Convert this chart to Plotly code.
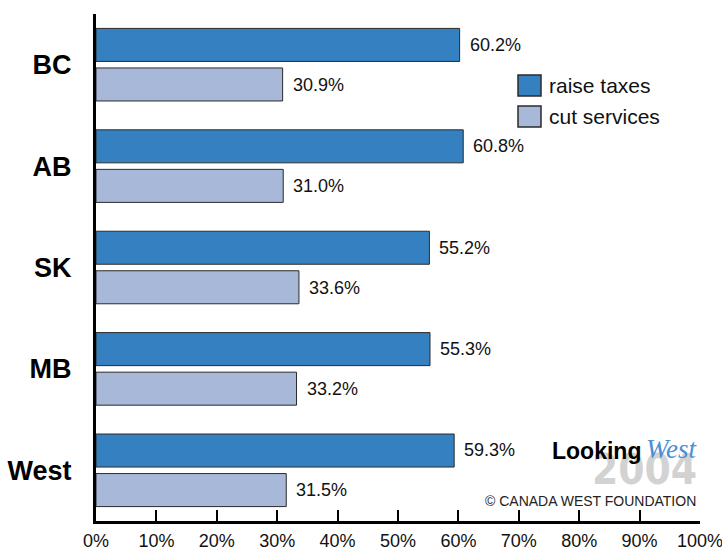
import plotly.graph_objects as go

# Survey: preferred response to a provincial budget shortfall
regions = ["BC", "AB", "SK", "MB", "West"]
raise_taxes = [60.2, 60.8, 55.2, 55.3, 59.3]
cut_services = [30.9, 31.0, 33.6, 33.2, 31.5]
series_names = ["raise taxes", "cut services"]
x_ticks = [0, 10, 20, 30, 40, 50, 60, 70, 80, 90, 100]
x_tick_labels = [f"{v}%" for v in x_ticks]

COL_RAISE = "#3580c0"
COL_CUT = "#a7b8d8"
EDGE = "#2b2b2b"

W, H = 722, 552
ML, MR, MT, MB = 96, 22, 14, 31
PW, PH = W - ML - MR, H - MT - MB


def px(x):
    return (x - ML) / PW


def py(y):
    return (H - MB - y) / PH


fig = go.Figure()
for name, vals, col in [(series_names[0], raise_taxes, COL_RAISE),
                        (series_names[1], cut_services, COL_CUT)]:
    fig.add_trace(go.Bar(
        y=regions, x=vals, orientation="h", name=name,
        marker=dict(color=col, line=dict(color=EDGE, width=1)),
        showlegend=False,
        offsetgroup=name,
    ))

# value labels to the right of each bar
annotations = []
for i, r in enumerate(regions):
    for vals, shift in [(raise_taxes, -1), (cut_services, 1)]:
        annotations.append(dict(
            x=vals[i], y=r, xref="x", yref="y",
            text=f"{vals[i]:.1f}%", showarrow=False,
            xanchor="left", xshift=8, yshift=-shift * 20,
            font=dict(family="Liberation Sans, Arial, sans-serif", size=18, color="#111"),
        ))

# legend
shapes = []
for (y0, y1, col, label, yc) in [(75, 96, COL_RAISE, series_names[0], 85),
                                  (106, 127, COL_CUT, series_names[1], 116)]:
    shapes.append(dict(type="rect", xref="paper", yref="paper",
                       x0=px(518), x1=px(541), y0=py(y1), y1=py(y0),
                       fillcolor=col, line=dict(color=EDGE, width=1.5)))
    annotations.append(dict(x=px(547), y=py(yc), xref="paper", yref="paper",
                            text=label, showarrow=False, xanchor="left", yanchor="middle",
                            font=dict(family="Liberation Sans, Arial, sans-serif", size=21, color="#111")))

# logo block
annotations += [
    dict(x=px(699), y=py(469), xref="paper", yref="paper", text="<b>2004</b>",
         showarrow=False, xanchor="right", yanchor="middle",
         font=dict(family="DejaVu Sans Condensed, Liberation Sans, sans-serif", size=42, color="#d2d2d2")),
    dict(x=px(643), y=py(451), xref="paper", yref="paper", text="<b>Looking</b>",
         showarrow=False, xanchor="right", yanchor="middle",
         font=dict(family="Liberation Sans, Arial, sans-serif", size=23, color="#000")),
    dict(x=px(644), y=py(449), xref="paper", yref="paper", text="<i>West</i>",
         showarrow=False, xanchor="left", yanchor="middle",
         font=dict(family="Liberation Serif, Times New Roman, serif", size=27, color="#4a8fd6")),
    dict(x=px(698), y=py(501), xref="paper", yref="paper", text="© CANADA WEST FOUNDATION",
         showarrow=False, xanchor="right", yanchor="middle",
         font=dict(family="Liberation Sans, Arial, sans-serif", size=14, color="#222")),
]

fig.update_layout(
    width=W, height=H,
    margin=dict(l=ML, r=MR, t=MT, b=MB, pad=0, autoexpand=False),
    paper_bgcolor="white", plot_bgcolor="white",
    barmode="group", bargap=0.22, bargroupgap=0.165,
    shapes=shapes, annotations=annotations,
    xaxis=dict(
        range=[0, 100], tickvals=x_ticks, ticktext=x_tick_labels,
        ticks="inside", ticklen=11, tickwidth=2, tickcolor="#000",
        showline=True, linewidth=2.5, linecolor="#000",
        showgrid=False, zeroline=False, ticklabelstandoff=2,
        automargin=False, ticklabeloverflow="allow",
        tickfont=dict(family="Liberation Sans, Arial, sans-serif", size=18, color="#111"),
    ),
    yaxis=dict(
        categoryorder="array", categoryarray=regions, autorange="reversed",
        showline=True, linewidth=3, linecolor="#000",
        showgrid=False, zeroline=False, ticks="", ticklabelstandoff=16,
        automargin=False,
        tickfont=dict(family="Liberation Sans, Arial, sans-serif", size=27, color="#000", weight="bold"),
    ),
)

fig.write_html("out.html")
